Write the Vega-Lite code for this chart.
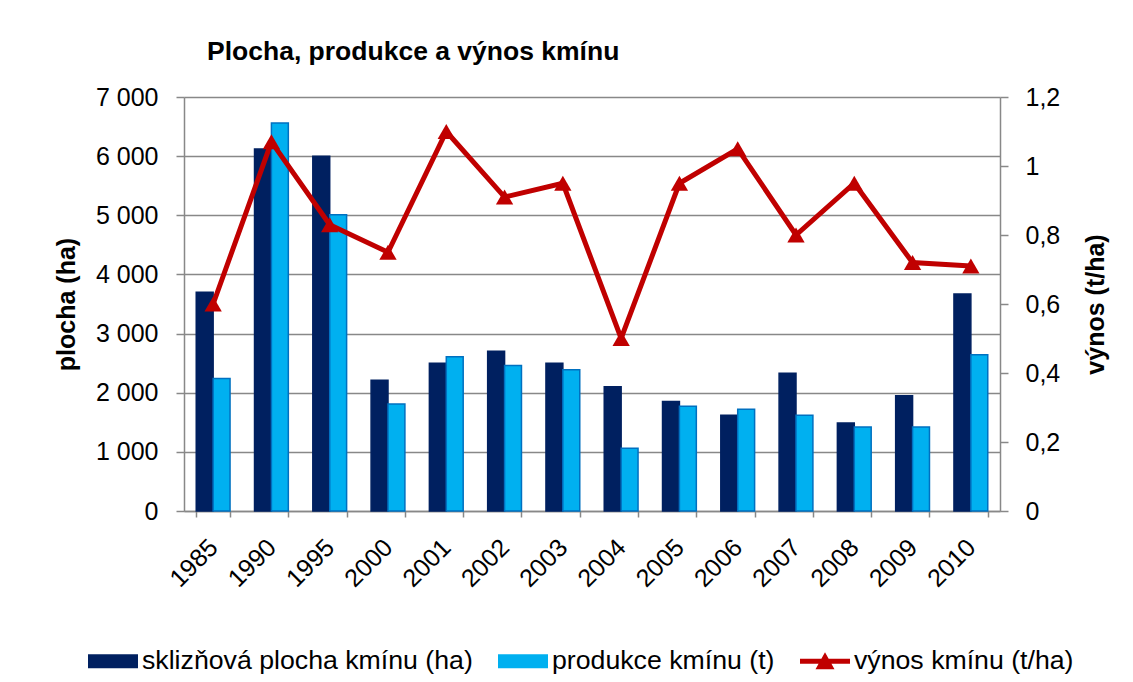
{
  "$schema": "https://vega.github.io/schema/vega-lite/v6.json",
  "width": 816,
  "height": 414,
  "autosize": {"type": "none"},
  "padding": {"left": 184, "top": 97, "right": 133, "bottom": 171},
  "background": "white",
  "config": {
    "font": "Liberation Sans",
    "view": {"stroke": null},
    "axis": {"labelColor": "black", "titleColor": "black", "labelFont": "Liberation Sans", "titleFont": "Liberation Sans"}
  },
  "title": {
    "text": "Plocha, produkce a výnos kmínu",
    "anchor": "start",
    "frame": "group",
    "dx": 23,
    "offset": 20,
    "fontSize": 26.5,
    "fontWeight": "bold",
    "font": "Liberation Sans",
    "color": "black"
  },
  "data": {
    "values": [
      {"year": "1985", "series": "sklizňová plocha kmínu (ha)", "value": 3700},
      {"year": "1990", "series": "sklizňová plocha kmínu (ha)", "value": 6120},
      {"year": "1995", "series": "sklizňová plocha kmínu (ha)", "value": 6000},
      {"year": "2000", "series": "sklizňová plocha kmínu (ha)", "value": 2210},
      {"year": "2001", "series": "sklizňová plocha kmínu (ha)", "value": 2500},
      {"year": "2002", "series": "sklizňová plocha kmínu (ha)", "value": 2700},
      {"year": "2003", "series": "sklizňová plocha kmínu (ha)", "value": 2500},
      {"year": "2004", "series": "sklizňová plocha kmínu (ha)", "value": 2100},
      {"year": "2005", "series": "sklizňová plocha kmínu (ha)", "value": 1850},
      {"year": "2006", "series": "sklizňová plocha kmínu (ha)", "value": 1620},
      {"year": "2007", "series": "sklizňová plocha kmínu (ha)", "value": 2330},
      {"year": "2008", "series": "sklizňová plocha kmínu (ha)", "value": 1490},
      {"year": "2009", "series": "sklizňová plocha kmínu (ha)", "value": 1950},
      {"year": "2010", "series": "sklizňová plocha kmínu (ha)", "value": 3670},
      {"year": "1985", "series": "produkce kmínu (t)", "value": 2240},
      {"year": "1990", "series": "produkce kmínu (t)", "value": 6560},
      {"year": "1995", "series": "produkce kmínu (t)", "value": 5010},
      {"year": "2000", "series": "produkce kmínu (t)", "value": 1810},
      {"year": "2001", "series": "produkce kmínu (t)", "value": 2610},
      {"year": "2002", "series": "produkce kmínu (t)", "value": 2460},
      {"year": "2003", "series": "produkce kmínu (t)", "value": 2390},
      {"year": "2004", "series": "produkce kmínu (t)", "value": 1060},
      {"year": "2005", "series": "produkce kmínu (t)", "value": 1770},
      {"year": "2006", "series": "produkce kmínu (t)", "value": 1720},
      {"year": "2007", "series": "produkce kmínu (t)", "value": 1620},
      {"year": "2008", "series": "produkce kmínu (t)", "value": 1420},
      {"year": "2009", "series": "produkce kmínu (t)", "value": 1420},
      {"year": "2010", "series": "produkce kmínu (t)", "value": 2640},
      {"year": "1985", "series": "výnos kmínu (t/ha)", "value": 0.6},
      {"year": "1990", "series": "výnos kmínu (t/ha)", "value": 1.07},
      {"year": "1995", "series": "výnos kmínu (t/ha)", "value": 0.83},
      {"year": "2000", "series": "výnos kmínu (t/ha)", "value": 0.75},
      {"year": "2001", "series": "výnos kmínu (t/ha)", "value": 1.1},
      {"year": "2002", "series": "výnos kmínu (t/ha)", "value": 0.91},
      {"year": "2003", "series": "výnos kmínu (t/ha)", "value": 0.95},
      {"year": "2004", "series": "výnos kmínu (t/ha)", "value": 0.5},
      {"year": "2005", "series": "výnos kmínu (t/ha)", "value": 0.95},
      {"year": "2006", "series": "výnos kmínu (t/ha)", "value": 1.05},
      {"year": "2007", "series": "výnos kmínu (t/ha)", "value": 0.8},
      {"year": "2008", "series": "výnos kmínu (t/ha)", "value": 0.95},
      {"year": "2009", "series": "výnos kmínu (t/ha)", "value": 0.72},
      {"year": "2010", "series": "výnos kmínu (t/ha)", "value": 0.71}
    ]
  },
  "encoding": {
    "x": {
      "field": "year",
      "type": "nominal",
      "sort": null,
      "scale": {"paddingInner": 0.42, "paddingOuter": 0.21},
      "axis": {
        "title": null,
        "labelAngle": -45,
        "labelAlign": "right",
        "labelBaseline": "middle",
        "labelFontSize": 25,
        "labelPadding": 26,
        "tickBand": "extent",
        "tickSize": 6,
        "tickColor": "#888888",
        "tickWidth": 1.5,
        "domainColor": "#888888",
        "domainWidth": 1.5
      }
    }
  },
  "layer": [
    {
      "transform": [{"filter": "datum.series !== 'výnos kmínu (t/ha)'"}],
      "mark": {"type": "bar", "strokeWidth": 1.5},
      "encoding": {
        "xOffset": {
          "field": "series",
          "type": "nominal",
          "scale": {"domain": ["sklizňová plocha kmínu (ha)", "produkce kmínu (t)"], "padding": 0}
        },
        "y": {
          "field": "value",
          "type": "quantitative",
          "scale": {"domain": [0, 7000], "nice": false},
          "axis": {
            "orient": "left",
            "title": "plocha (ha)",
            "titleFontSize": 25,
            "titleFontWeight": "bold",
            "titlePadding": 16,
            "labelFontSize": 25,
            "labelPadding": 18,
            "tickSize": 8,
            "tickColor": "#888888",
            "tickWidth": 1.5,
            "domainColor": "#888888",
            "domainWidth": 1.5,
            "grid": true,
            "gridColor": "#888888",
            "gridWidth": 1.5,
            "values": [0, 1000, 2000, 3000, 4000, 5000, 6000, 7000],
            "labelExpr": "replace(format(datum.value, ','), ',', ' ')"
          }
        },
        "color": {
          "field": "series",
          "type": "nominal",
          "scale": {
            "domain": ["sklizňová plocha kmínu (ha)", "produkce kmínu (t)", "výnos kmínu (t/ha)"],
            "range": ["#002060", "#00B0F0", "#C00000"]
          },
          "legend": {
            "orient": "none",
            "legendX": -96,
            "legendY": 539,
            "direction": "horizontal",
            "title": null,
            "labelFontSize": 26.7,
            "labelFont": "Liberation Sans",
            "labelColor": "black",
            "labelLimit": 0,
            "labelOffset": 4,
            "columnPadding": 25,
            "symbolType": "M-1,-0.28H1V0.28H-1Z",
            "symbolSize": 2500,
            "symbolStrokeWidth": 0,
            "symbolOpacity": 1,
            "encoding": {
              "symbols": {
                "shape": {"value": {"expr": "datum.value === 'výnos kmínu (t/ha)' ? 'M-1,-0.1H1V0.1H-1Z M-0.38,0.32L0,-0.36L0.38,0.32Z' : 'M-1,-0.28H1V0.28H-1Z'"}}
              }
            }
          }
        },
        "stroke": {
          "field": "series",
          "type": "nominal",
          "scale": {"domain": ["sklizňová plocha kmínu (ha)", "produkce kmínu (t)"], "range": ["#002060", "#0070C0"]},
          "legend": null
        }
      }
    },
    {
      "transform": [{"filter": "datum.series === 'výnos kmínu (t/ha)'"}],
      "mark": {
        "type": "line",
        "color": "#C00000",
        "strokeWidth": 5,
        "point": {"shape": "triangle-up", "size": 300, "filled": true, "fill": "#C00000", "opacity": 1}
      },
      "encoding": {
        "y": {
          "field": "value",
          "type": "quantitative",
          "scale": {"domain": [0, 1.2], "nice": false},
          "axis": {
            "orient": "right",
            "title": "výnos (t/ha)",
            "titleFontSize": 25,
            "titleFontWeight": "bold",
            "titleAngle": 270,
            "titleBaseline": "top",
            "titlePadding": 24,
            "labelFontSize": 25,
            "labelPadding": 17,
            "tickSize": 8,
            "tickColor": "#888888",
            "tickWidth": 1.5,
            "domainColor": "#888888",
            "domainWidth": 1.5,
            "grid": false,
            "values": [0, 0.2, 0.4, 0.6, 0.8, 1, 1.2],
            "labelExpr": "replace(format(datum.value, '.1~f'), '.', ',')"
          }
        }
      }
    }
  ],
  "resolve": {"scale": {"y": "independent"}}
}
